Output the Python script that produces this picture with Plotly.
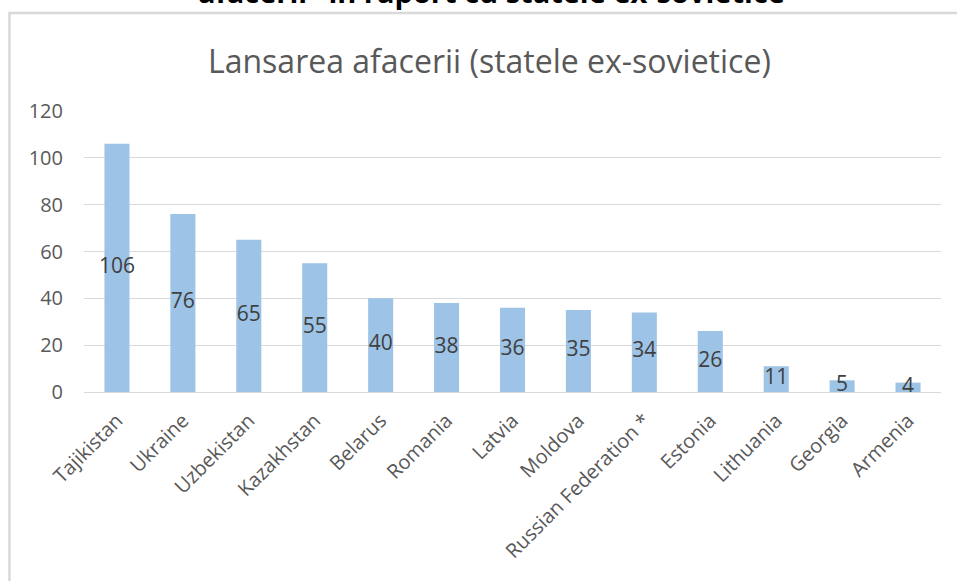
import plotly.graph_objects as go

countries = ["Tajikistan", "Ukraine", "Uzbekistan", "Kazakhstan", "Belarus", "Romania",
             "Latvia", "Moldova", "Russian Federation *", "Estonia", "Lithuania", "Georgia", "Armenia"]
values = [106, 76, 65, 55, 40, 38, 36, 35, 34, 26, 11, 5, 4]
y_ticks = [0, 20, 40, 60, 80, 100, 120]

BAR = "#9dc3e6"
GREY = "#595959"
FONT = "Open Sans"

fig = go.Figure()
fig.add_trace(go.Bar(
    x=countries, y=values, marker_color=BAR, marker_line_width=0, width=0.38,
    hoverinfo="x+y",
))
# value labels sit in the middle of each bar
fig.add_trace(go.Scatter(
    x=countries, y=[v / 2 for v in values], mode="text", text=[str(v) for v in values],
    textfont={"size": 21, "color": "#404040", "family": FONT}, hoverinfo="skip",
))

fig.update_xaxes(
    range=[-0.5, len(countries) - 0.5],
    tickangle=-45, tickfont={"size": 20, "color": GREY, "family": FONT}, automargin=False,
    ticklabelstandoff=8,
    showline=True, linecolor="#d9d9d9", linewidth=1, showgrid=False,
)
fig.update_yaxes(
    range=[0, 120], tickvals=y_ticks, tickfont={"size": 20, "color": GREY, "family": FONT},
    gridcolor="#d9d9d9", gridwidth=1, zeroline=False, showline=False,
    ticklabelstandoff=20, automargin=False,
)
fig.update_layout(
    width=957, height=581, showlegend=False,
    plot_bgcolor="white", paper_bgcolor="white",
    margin={"l": 84, "r": 16, "t": 111, "b": 189},
    shapes=[{
        "type": "rect", "xref": "paper", "yref": "paper",
        "x0": -0.087, "x1": 1.2, "y0": -1.0, "y1": 1.349,
        "line": {"color": "#d9d9d9", "width": 2.5}, "layer": "below",
    }],
    annotations=[
        {"text": "Lansarea afacerii (statele ex-sovietice)", "xref": "paper", "yref": "paper",
         "x": 0.473, "y": 1.18, "xanchor": "center", "yanchor": "middle", "showarrow": False,
         "font": {"size": 32, "color": GREY, "family": FONT}},
        {"text": "<b>afacerii\" în raport cu statele ex-sovietice</b>", "xref": "paper", "yref": "paper",
         "x": 0.475, "y": 1.349, "xanchor": "center", "yanchor": "bottom", "showarrow": False,
         "font": {"size": 29, "color": "black", "family": FONT}},
    ],
)

# drop the page's default 8px body margin so the figure fills the window
fig.write_html("out.html", config={"displayModeBar": False},
               post_script="document.body.style.margin='0';")
